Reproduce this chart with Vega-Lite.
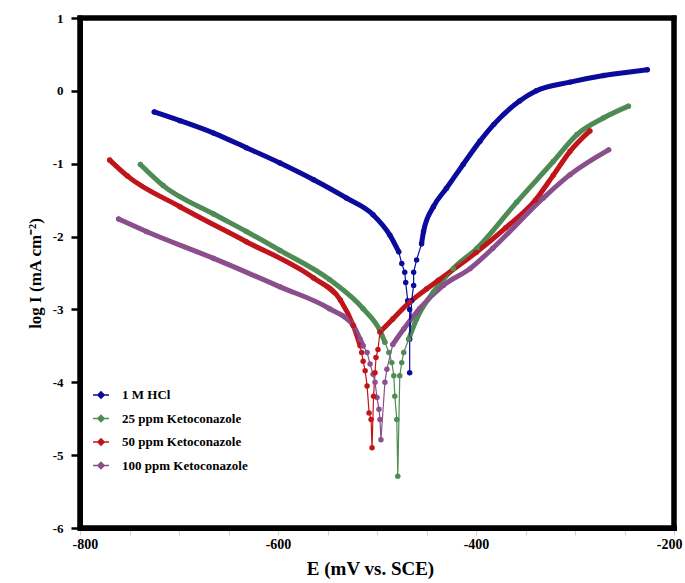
{
  "$schema": "https://vega.github.io/schema/vega-lite/v6.json",
  "width": 594,
  "height": 510,
  "autosize": "none",
  "padding": {"left": 80, "top": 18, "right": 11, "bottom": 55},
  "background": "white",
  "config": {
    "font": "Liberation Serif",
    "view": {"stroke": "black", "strokeWidth": 5},
    "axis": {"domainColor": "black", "domainWidth": 5}
  },
  "datasets": {
    "curves": [
      {"series": "1 M HCl", "i": 1, "branch": "c", "E": -725, "logI": -0.29},
      {"series": "1 M HCl", "i": 2, "branch": "c", "E": -699, "logI": -0.41},
      {"series": "1 M HCl", "i": 3, "branch": "c", "E": -665, "logI": -0.58},
      {"series": "1 M HCl", "i": 4, "branch": "c", "E": -632, "logI": -0.78},
      {"series": "1 M HCl", "i": 5, "branch": "c", "E": -598, "logI": -0.99},
      {"series": "1 M HCl", "i": 6, "branch": "c", "E": -564, "logI": -1.22},
      {"series": "1 M HCl", "i": 7, "branch": "c", "E": -531, "logI": -1.47},
      {"series": "1 M HCl", "i": 8, "branch": "c", "E": -504, "logI": -1.70},
      {"series": "1 M HCl", "i": 9, "branch": "c", "E": -487, "logI": -1.98},
      {"series": "1 M HCl", "i": 10, "branch": "c", "E": -478, "logI": -2.21},
      {"series": "1 M HCl", "i": 11, "branch": "c", "E": -475, "logI": -2.37},
      {"series": "1 M HCl", "i": 12, "branch": "c", "E": -472, "logI": -2.49},
      {"series": "1 M HCl", "i": 13, "branch": "c", "E": -471, "logI": -2.63},
      {"series": "1 M HCl", "i": 14, "branch": "c", "E": -469, "logI": -2.88},
      {"series": "1 M HCl", "i": 15, "branch": "c", "E": -467, "logI": -3.00},
      {"series": "1 M HCl", "i": 16, "branch": "c", "E": -467, "logI": -3.87},
      {"series": "1 M HCl", "i": 17, "branch": "a", "E": -467, "logI": -3.41},
      {"series": "1 M HCl", "i": 18, "branch": "a", "E": -465, "logI": -2.88},
      {"series": "1 M HCl", "i": 19, "branch": "a", "E": -463, "logI": -2.67},
      {"series": "1 M HCl", "i": 20, "branch": "a", "E": -463, "logI": -2.49},
      {"series": "1 M HCl", "i": 21, "branch": "a", "E": -460, "logI": -2.32},
      {"series": "1 M HCl", "i": 22, "branch": "a", "E": -455, "logI": -2.10},
      {"series": "1 M HCl", "i": 23, "branch": "a", "E": -453, "logI": -1.93},
      {"series": "1 M HCl", "i": 24, "branch": "a", "E": -443, "logI": -1.59},
      {"series": "1 M HCl", "i": 25, "branch": "a", "E": -430, "logI": -1.34},
      {"series": "1 M HCl", "i": 26, "branch": "a", "E": -413, "logI": -1.01},
      {"series": "1 M HCl", "i": 27, "branch": "a", "E": -396, "logI": -0.69},
      {"series": "1 M HCl", "i": 28, "branch": "a", "E": -382, "logI": -0.46},
      {"series": "1 M HCl", "i": 29, "branch": "a", "E": -356, "logI": -0.14},
      {"series": "1 M HCl", "i": 30, "branch": "a", "E": -339, "logI": 0.0},
      {"series": "1 M HCl", "i": 31, "branch": "a", "E": -305, "logI": 0.12},
      {"series": "1 M HCl", "i": 32, "branch": "a", "E": -271, "logI": 0.21},
      {"series": "1 M HCl", "i": 33, "branch": "a", "E": -227, "logI": 0.29},
      {"series": "25 ppm Ketoconazole", "i": 1, "branch": "c", "E": -739, "logI": -1.01},
      {"series": "25 ppm Ketoconazole", "i": 2, "branch": "c", "E": -716, "logI": -1.30},
      {"series": "25 ppm Ketoconazole", "i": 3, "branch": "c", "E": -665, "logI": -1.69},
      {"series": "25 ppm Ketoconazole", "i": 4, "branch": "c", "E": -632, "logI": -1.93},
      {"series": "25 ppm Ketoconazole", "i": 5, "branch": "c", "E": -598, "logI": -2.19},
      {"series": "25 ppm Ketoconazole", "i": 6, "branch": "c", "E": -548, "logI": -2.59},
      {"series": "25 ppm Ketoconazole", "i": 7, "branch": "c", "E": -514, "logI": -2.99},
      {"series": "25 ppm Ketoconazole", "i": 8, "branch": "c", "E": -497, "logI": -3.29},
      {"series": "25 ppm Ketoconazole", "i": 9, "branch": "c", "E": -492, "logI": -3.45},
      {"series": "25 ppm Ketoconazole", "i": 10, "branch": "c", "E": -488, "logI": -3.59},
      {"series": "25 ppm Ketoconazole", "i": 11, "branch": "c", "E": -485, "logI": -3.73},
      {"series": "25 ppm Ketoconazole", "i": 12, "branch": "c", "E": -483, "logI": -3.91},
      {"series": "25 ppm Ketoconazole", "i": 13, "branch": "c", "E": -482, "logI": -4.19},
      {"series": "25 ppm Ketoconazole", "i": 14, "branch": "c", "E": -480, "logI": -4.51},
      {"series": "25 ppm Ketoconazole", "i": 15, "branch": "c", "E": -479, "logI": -5.29},
      {"series": "25 ppm Ketoconazole", "i": 16, "branch": "a", "E": -477, "logI": -3.91},
      {"series": "25 ppm Ketoconazole", "i": 17, "branch": "a", "E": -475, "logI": -3.73},
      {"series": "25 ppm Ketoconazole", "i": 18, "branch": "a", "E": -473, "logI": -3.59},
      {"series": "25 ppm Ketoconazole", "i": 19, "branch": "a", "E": -468, "logI": -3.41},
      {"series": "25 ppm Ketoconazole", "i": 20, "branch": "a", "E": -460, "logI": -3.13},
      {"series": "25 ppm Ketoconazole", "i": 21, "branch": "a", "E": -443, "logI": -2.76},
      {"series": "25 ppm Ketoconazole", "i": 22, "branch": "a", "E": -423, "logI": -2.44},
      {"series": "25 ppm Ketoconazole", "i": 23, "branch": "a", "E": -399, "logI": -2.16},
      {"series": "25 ppm Ketoconazole", "i": 24, "branch": "a", "E": -359, "logI": -1.53},
      {"series": "25 ppm Ketoconazole", "i": 25, "branch": "a", "E": -322, "logI": -0.97},
      {"series": "25 ppm Ketoconazole", "i": 26, "branch": "a", "E": -298, "logI": -0.60},
      {"series": "25 ppm Ketoconazole", "i": 27, "branch": "a", "E": -271, "logI": -0.37},
      {"series": "25 ppm Ketoconazole", "i": 28, "branch": "a", "E": -246, "logI": -0.21},
      {"series": "50 ppm Ketoconazole", "i": 1, "branch": "c", "E": -770, "logI": -0.95},
      {"series": "50 ppm Ketoconazole", "i": 2, "branch": "c", "E": -752, "logI": -1.17},
      {"series": "50 ppm Ketoconazole", "i": 3, "branch": "c", "E": -699, "logI": -1.59},
      {"series": "50 ppm Ketoconazole", "i": 4, "branch": "c", "E": -632, "logI": -2.07},
      {"series": "50 ppm Ketoconazole", "i": 5, "branch": "c", "E": -564, "logI": -2.57},
      {"series": "50 ppm Ketoconazole", "i": 6, "branch": "c", "E": -537, "logI": -2.87},
      {"series": "50 ppm Ketoconazole", "i": 7, "branch": "c", "E": -524, "logI": -3.22},
      {"series": "50 ppm Ketoconazole", "i": 8, "branch": "c", "E": -517, "logI": -3.50},
      {"series": "50 ppm Ketoconazole", "i": 9, "branch": "c", "E": -515.5, "logI": -3.59},
      {"series": "50 ppm Ketoconazole", "i": 10, "branch": "c", "E": -514, "logI": -3.71},
      {"series": "50 ppm Ketoconazole", "i": 11, "branch": "c", "E": -512, "logI": -3.84},
      {"series": "50 ppm Ketoconazole", "i": 12, "branch": "c", "E": -510, "logI": -4.05},
      {"series": "50 ppm Ketoconazole", "i": 13, "branch": "c", "E": -508, "logI": -4.42},
      {"series": "50 ppm Ketoconazole", "i": 14, "branch": "c", "E": -506, "logI": -4.51},
      {"series": "50 ppm Ketoconazole", "i": 15, "branch": "c", "E": -505, "logI": -4.90},
      {"series": "50 ppm Ketoconazole", "i": 16, "branch": "a", "E": -503.5, "logI": -4.19},
      {"series": "50 ppm Ketoconazole", "i": 17, "branch": "a", "E": -502, "logI": -3.87},
      {"series": "50 ppm Ketoconazole", "i": 18, "branch": "a", "E": -501, "logI": -3.66},
      {"series": "50 ppm Ketoconazole", "i": 19, "branch": "a", "E": -499, "logI": -3.55},
      {"series": "50 ppm Ketoconazole", "i": 20, "branch": "a", "E": -497, "logI": -3.31},
      {"series": "50 ppm Ketoconazole", "i": 21, "branch": "a", "E": -484, "logI": -3.13},
      {"series": "50 ppm Ketoconazole", "i": 22, "branch": "a", "E": -467, "logI": -2.90},
      {"series": "50 ppm Ketoconazole", "i": 23, "branch": "a", "E": -450, "logI": -2.72},
      {"series": "50 ppm Ketoconazole", "i": 24, "branch": "a", "E": -438, "logI": -2.60},
      {"series": "50 ppm Ketoconazole", "i": 25, "branch": "a", "E": -400, "logI": -2.22},
      {"series": "50 ppm Ketoconazole", "i": 26, "branch": "a", "E": -370, "logI": -1.88},
      {"series": "50 ppm Ketoconazole", "i": 27, "branch": "a", "E": -340, "logI": -1.50},
      {"series": "50 ppm Ketoconazole", "i": 28, "branch": "a", "E": -322, "logI": -1.16},
      {"series": "50 ppm Ketoconazole", "i": 29, "branch": "a", "E": -305, "logI": -0.83},
      {"series": "50 ppm Ketoconazole", "i": 30, "branch": "a", "E": -285, "logI": -0.55},
      {"series": "100 ppm Ketoconazole", "i": 1, "branch": "c", "E": -761, "logI": -1.76},
      {"series": "100 ppm Ketoconazole", "i": 2, "branch": "c", "E": -733, "logI": -1.93},
      {"series": "100 ppm Ketoconazole", "i": 3, "branch": "c", "E": -665, "logI": -2.30},
      {"series": "100 ppm Ketoconazole", "i": 4, "branch": "c", "E": -598, "logI": -2.69},
      {"series": "100 ppm Ketoconazole", "i": 5, "branch": "c", "E": -548, "logI": -2.99},
      {"series": "100 ppm Ketoconazole", "i": 6, "branch": "c", "E": -524, "logI": -3.22},
      {"series": "100 ppm Ketoconazole", "i": 7, "branch": "c", "E": -517, "logI": -3.41},
      {"series": "100 ppm Ketoconazole", "i": 8, "branch": "c", "E": -514, "logI": -3.50},
      {"series": "100 ppm Ketoconazole", "i": 9, "branch": "c", "E": -510, "logI": -3.59},
      {"series": "100 ppm Ketoconazole", "i": 10, "branch": "c", "E": -507, "logI": -3.75},
      {"series": "100 ppm Ketoconazole", "i": 11, "branch": "c", "E": -504, "logI": -3.89},
      {"series": "100 ppm Ketoconazole", "i": 12, "branch": "c", "E": -502, "logI": -4.00},
      {"series": "100 ppm Ketoconazole", "i": 13, "branch": "c", "E": -500, "logI": -4.21},
      {"series": "100 ppm Ketoconazole", "i": 14, "branch": "c", "E": -498, "logI": -4.37},
      {"series": "100 ppm Ketoconazole", "i": 15, "branch": "c", "E": -497, "logI": -4.51},
      {"series": "100 ppm Ketoconazole", "i": 16, "branch": "c", "E": -496, "logI": -4.79},
      {"series": "100 ppm Ketoconazole", "i": 17, "branch": "a", "E": -492, "logI": -4.00},
      {"series": "100 ppm Ketoconazole", "i": 18, "branch": "a", "E": -490, "logI": -3.82},
      {"series": "100 ppm Ketoconazole", "i": 19, "branch": "a", "E": -484, "logI": -3.48},
      {"series": "100 ppm Ketoconazole", "i": 20, "branch": "a", "E": -473, "logI": -3.27},
      {"series": "100 ppm Ketoconazole", "i": 21, "branch": "a", "E": -457, "logI": -2.99},
      {"series": "100 ppm Ketoconazole", "i": 22, "branch": "a", "E": -433, "logI": -2.67},
      {"series": "100 ppm Ketoconazole", "i": 23, "branch": "a", "E": -406, "logI": -2.44},
      {"series": "100 ppm Ketoconazole", "i": 24, "branch": "a", "E": -383, "logI": -2.16},
      {"series": "100 ppm Ketoconazole", "i": 25, "branch": "a", "E": -332, "logI": -1.47},
      {"series": "100 ppm Ketoconazole", "i": 26, "branch": "a", "E": -305, "logI": -1.15},
      {"series": "100 ppm Ketoconazole", "i": 27, "branch": "a", "E": -266, "logI": -0.81}
    ],
    "frame": [{"edge": "plot frame"}]
  },
  "layer": [
    {
      "data": {"name": "curves"},
      "transform": [
        {"filter": "datum.logI > (datum.series == '1 M HCl' ? -2.25 : -3.52)"}
      ],
      "mark": {"type": "line", "strokeWidth": 5, "strokeCap": "round", "strokeJoin": "round", "interpolate": "monotone"},
      "encoding": {
        "x": {
          "field": "E", "type": "quantitative",
          "scale": {"domain": [-800, -200], "nice": false, "zero": false},
          "axis": {
            "values": [-800, -750, -700, -650, -600, -550, -500, -450, -400, -350, -300, -250, -200],
            "labelExpr": "datum.value % 200 == 0 ? toString(datum.value) : ''",
            "domain": true, "domainColor": "black", "domainWidth": 5, "domainCap": "square",
            "grid": false,
            "tickColor": "#d0d0d0", "tickSize": 7, "tickWidth": 1,
            "labelFont": "Liberation Serif", "labelFontWeight": "bold", "labelFontSize": 14, "labelColor": "black",
            "labelPadding": 2, "labelFlush": true, "labelFlushOffset": 8,
            "title": "E (mV vs. SCE)",
            "titleFont": "Liberation Serif", "titleFontWeight": "bold", "titleFontSize": 19, "titleColor": "black",
            "titlePadding": 8, "titleX": 290, "titleAlign": "center"
          }
        },
        "y": {
          "field": "logI", "type": "quantitative",
          "scale": {"domain": [-6, 1], "nice": false, "zero": false},
          "axis": {
            "values": [-6, -5, -4, -3, -2, -1, 0, 1],
            "labelExpr": "toString(datum.value)",
            "domain": true, "domainColor": "black", "domainWidth": 5, "domainCap": "square",
            "grid": false,
            "tickColor": "black", "tickSize": 9, "tickWidth": 2.5,
            "labelFont": "Liberation Serif", "labelFontWeight": "bold", "labelFontSize": 13, "labelColor": "black",
            "labelPadding": 8, "labelFlush": false,
            "title": "log I (mA cm⁻²)",
            "titleFont": "Liberation Serif", "titleFontWeight": "bold", "titleFontSize": 17, "titleColor": "black",
            "titlePadding": 8
          }
        },
        "color": {
          "field": "series", "type": "nominal",
          "scale": {
            "domain": ["1 M HCl", "25 ppm Ketoconazole", "50 ppm Ketoconazole", "100 ppm Ketoconazole"],
            "range": ["#0b0b9c", "#4f8b54", "#c0151a", "#8b4f8d"]
          }
        },
        "detail": {"field": "branch", "type": "nominal"},
        "order": {"field": "i", "type": "quantitative"}
      }
    },
    {
      "data": {"name": "curves"},
      "mark": {"type": "line", "strokeWidth": 1.2, "point": {"filled": true, "size": 30}},
      "encoding": {
        "x": {"field": "E", "type": "quantitative"},
        "y": {"field": "logI", "type": "quantitative"},
        "order": {"field": "i", "type": "quantitative"},
        "color": {
          "field": "series", "type": "nominal",
          "legend": {
            "orient": "none", "legendX": 12, "legendY": 368,
            "title": null,
            "symbolType": "M-1,0H1M-0.4,0L0,-0.4L0.4,0L0,0.4Z",
            "symbolSize": 256, "symbolStrokeWidth": 1.5,
            "labelFont": "Liberation Serif", "labelFontWeight": "bold", "labelFontSize": 13, "labelColor": "black",
            "labelOffset": 12, "rowPadding": 7.5, "padding": 0,
            "labelLimit": 300,
            "encode": {"symbols": {"update": {"fill": {"scale": "color", "field": "value"}, "stroke": {"scale": "color", "field": "value"}}}}
          }
        }
      }
    },
    {
      "data": {"name": "frame"},
      "mark": {"type": "rule", "color": "black", "strokeWidth": 5, "strokeCap": "square"},
      "encoding": {"x": {"datum": -800, "type": "quantitative"}}
    },
    {
      "data": {"name": "frame"},
      "mark": {"type": "rule", "color": "black", "strokeWidth": 5, "strokeCap": "square"},
      "encoding": {"x": {"datum": -200, "type": "quantitative"}}
    },
    {
      "data": {"name": "frame"},
      "mark": {"type": "rule", "color": "black", "strokeWidth": 5, "strokeCap": "square"},
      "encoding": {"y": {"datum": -6, "type": "quantitative"}}
    },
    {
      "data": {"name": "frame"},
      "mark": {"type": "rule", "color": "black", "strokeWidth": 5, "strokeCap": "square"},
      "encoding": {"y": {"datum": 1, "type": "quantitative"}}
    }
  ]
}
